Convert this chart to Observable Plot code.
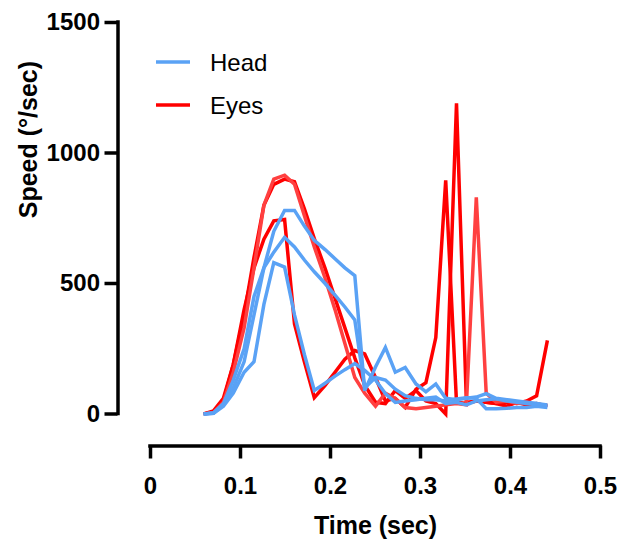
<!DOCTYPE html>
<html><head><meta charset="utf-8">
<script src="https://cdn.jsdelivr.net/npm/d3@7"></script>
<script src="https://cdn.jsdelivr.net/npm/@observablehq/plot@0.6"></script>
<style>
html,body{margin:0;padding:0;background:#fff;}
#wrap{position:relative;width:632px;height:542px;overflow:hidden;}
#legend{position:absolute;left:0;top:0;width:632px;height:140px;pointer-events:none;}
</style></head><body><div id="wrap"></div>
<script>
// Sample times (sec)
const times = [0.059,0.070,0.081,0.092,0.104,0.115,0.126,0.137,0.149,0.160,0.171,0.182,0.194,0.205,0.216,0.227,0.238,0.250,0.261,0.272,0.283,0.295,0.306,0.317,0.328,0.340,0.351,0.362,0.373,0.384,0.396,0.407,0.418,0.429,0.441];

// Head speed traces (deg/sec)
const head1 = [0,3,35,100,200,380,560,700,780,780,720,665,630,595,560,530,90,180,255,160,178,115,85,115,60,55,60,65,78,60,55,50,45,40,30];
const head2 = [0,5,40,130,250,450,560,620,677,640,590,545,500,455,410,360,100,140,130,95,70,60,55,55,50,58,62,60,20,20,22,25,25,30,25];
const head3 = [0,3,30,80,160,200,420,580,563,380,228,90,118,145,170,193,167,130,78,44,50,55,60,65,40,45,35,50,55,58,50,45,40,40,35];

// Eye speed traces (deg/sec)
const eyes1 = [0,8,50,190,380,600,800,880,900,890,786,672,558,444,330,215,110,45,40,90,60,90,50,40,0,1190,44,50,45,40,45,40,50,70,282];
const eyes2 = [0,12,60,190,400,560,670,740,745,345,200,63,110,160,210,243,230,140,50,60,25,95,120,293,895,45,40,50,45,40,30,45,35,40,30];
const eyes3 = [0,5,45,160,330,560,800,900,915,880,760,640,520,400,270,140,80,30,80,60,25,20,25,30,35,40,35,830,80,45,50,40,45,30,35];

const seriesNames = ["Head", "Eyes"];
const seriesColors = ["#5aa2f5", "#ff0000"];
const lightRed = "#ff4040";
const xTicks = [0, 0.1, 0.2, 0.3, 0.4, 0.5];
const yTicks = [0, 500, 1000, 1500];
const xDomain = [0, 0.5];
const yDomain = [0, 1500];

const traces = [
  {id: "e1", values: eyes1, color: seriesColors[1]},
  {id: "e2", values: eyes2, color: seriesColors[1]},
  {id: "e3", values: eyes3, color: lightRed},
  {id: "h1", values: head1, color: seriesColors[0]},
  {id: "h2", values: head2, color: seriesColors[0]},
  {id: "h3", values: head3, color: seriesColors[0]}
];
const rows = traces.flatMap(tr => times.map((t, i) => ({t, v: tr.values[i], trace: tr.id, color: tr.color})));

const font = "Arial, 'Liberation Sans', sans-serif";

const chart = Plot.plot({
  width: 632,
  height: 542,
  marginLeft: 150,
  marginRight: 32,
  marginTop: 22,
  marginBottom: 128.5,
  style: {fontFamily: font, color: "black", background: "white", overflow: "visible"},
  x: {domain: xDomain},
  y: {domain: yDomain},
  color: {type: "identity"},
  marks: [
    Plot.line(rows, {x: "t", y: "v", z: "trace", stroke: "color", strokeWidth: 3.5, strokeLinejoin: "miter", strokeMiterlimit: 3, strokeLinecap: "butt"}),
    // Y axis (offset to the left)
    Plot.ruleX([xDomain[0]], {y1: yDomain[0], y2: yDomain[1], dx: -32.5, stroke: "black", strokeWidth: 3.5, strokeLinecap: "square"}),
    Plot.axisY({ticks: yTicks, tickFormat: d => String(d), tickSize: 13, tickPadding: 5, dx: -32.5, strokeWidth: 3.5, fontSize: 24, fontWeight: "bold", label: null, stroke: "black", fill: "black"}),
    // X axis (offset downward)
    Plot.ruleY([yDomain[0]], {x1: xDomain[0], x2: xDomain[1], dy: 32, stroke: "black", strokeWidth: 3.5, strokeLinecap: "square"}),
    Plot.axisX({ticks: xTicks, tickFormat: d => String(d), tickSize: 13, tickPadding: 18, dy: 32, strokeWidth: 3.5, fontSize: 24, fontWeight: "bold", label: null, stroke: "black", fill: "black"}),
    // Axis titles
    Plot.text(["Time (sec)"], {frameAnchor: "bottom", dy: 112, lineAnchor: "middle", fontSize: 25, fontWeight: "bold", fill: "black"}),
    Plot.text(["Speed (°/sec)"], {frameAnchor: "left", dx: -122, rotate: -90, lineAnchor: "middle", fontSize: 25, fontWeight: "bold", fill: "black"})
  ]
});

const wrap = document.getElementById("wrap");
wrap.appendChild(chart);

// Legend overlay
const ns = "http://www.w3.org/2000/svg";
const leg = document.createElementNS(ns, "svg");
leg.setAttribute("id", "legend");
leg.setAttribute("width", 632);
leg.setAttribute("height", 140);
seriesNames.forEach((name, i) => {
  const y = 62 + i * 43;
  const ln = document.createElementNS(ns, "line");
  ln.setAttribute("x1", 156); ln.setAttribute("x2", 190);
  ln.setAttribute("y1", y); ln.setAttribute("y2", y);
  ln.setAttribute("stroke", seriesColors[i]); ln.setAttribute("stroke-width", 3.5);
  leg.appendChild(ln);
  const tx = document.createElementNS(ns, "text");
  tx.setAttribute("x", 210); tx.setAttribute("y", y + 8.5);
  tx.setAttribute("font-family", font); tx.setAttribute("font-size", 24);
  tx.setAttribute("fill", "black");
  tx.textContent = name;
  leg.appendChild(tx);
});
wrap.appendChild(leg);
</script>
</body></html>
